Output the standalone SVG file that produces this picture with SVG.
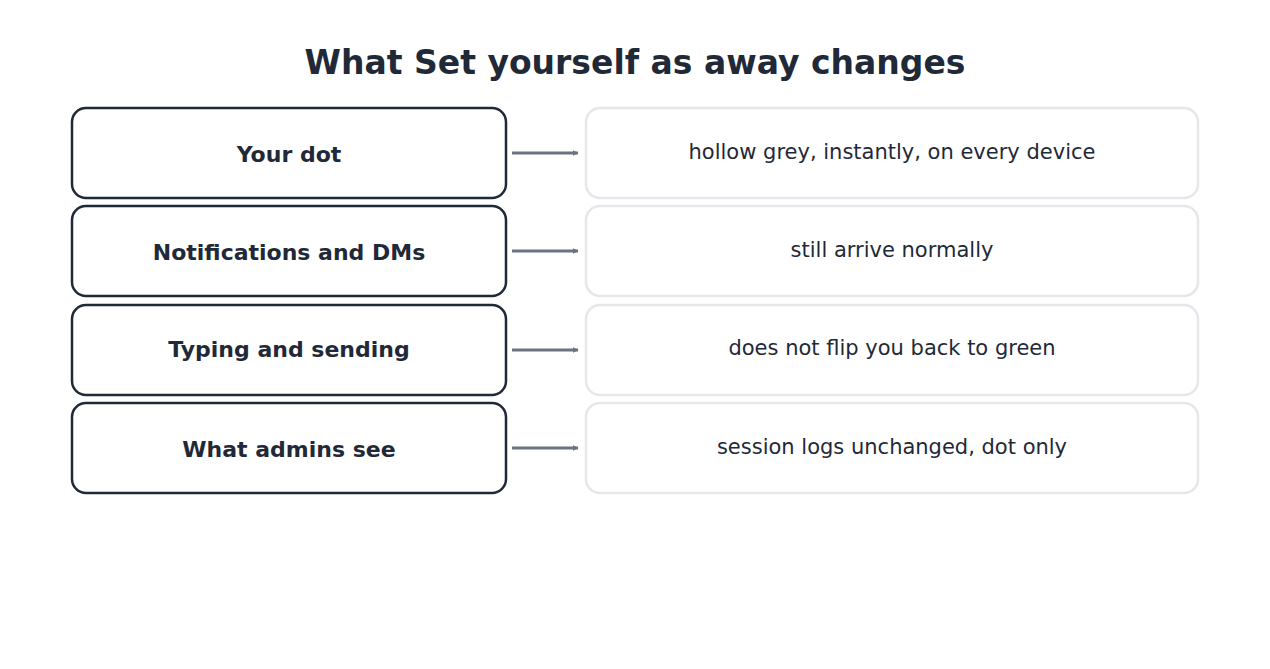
<svg xmlns="http://www.w3.org/2000/svg" width="1270" height="669" viewBox="0 0 1270 669">
<style>
text{font-family:"DejaVu Sans","Liberation Sans",sans-serif;fill:#1f2937;text-anchor:middle;dominant-baseline:central}
.l rect{fill:#fff;stroke:#1f2937;stroke-width:2.5}
.r rect{fill:#fff;stroke:#e5e7eb;stroke-width:2.5}
.l text{font-weight:bold;font-size:22px}
.r text{font-size:21px}
.c line{stroke:#6b7280;stroke-width:3;marker-end:url(#a)}
</style>
<defs><marker id="a" viewBox="0 0 10 10" refX="9" refY="5" markerWidth="6" markerHeight="6" markerUnits="userSpaceOnUse" orient="auto"><path d="M0,0L10,5L0,10z" fill="#6b7280"/></marker></defs>
<rect width="1270" height="669" fill="#fff"/>
<text x="635" y="62" font-size="33" font-weight="bold">What Set yourself as away changes</text>
<g id="n1" class="l"><rect x="72" y="108" width="434" height="90" rx="14"/><text x="289" y="154">Your dot</text></g>
<g id="n2" class="l"><rect x="72" y="206" width="434" height="90" rx="14"/><text x="289" y="252">Notifications and DMs</text></g>
<g id="n3" class="l"><rect x="72" y="305" width="434" height="90" rx="14"/><text x="289" y="349">Typing and sending</text></g>
<g id="n4" class="l"><rect x="72" y="403" width="434" height="90" rx="14"/><text x="289" y="449">What admins see</text></g>
<g id="m1" class="r"><rect x="586" y="108" width="612" height="90" rx="14"/><text x="892" y="152">hollow grey, instantly, on every device</text></g>
<g id="m2" class="r"><rect x="586" y="206" width="612" height="90" rx="14"/><text x="892" y="250">still arrive normally</text></g>
<g id="m3" class="r"><rect x="586" y="305" width="612" height="90" rx="14"/><text x="892" y="348">does not flip you back to green</text></g>
<g id="m4" class="r"><rect x="586" y="403" width="612" height="90" rx="14"/><text x="892" y="447">session logs unchanged, dot only</text></g>
<g id="connectors" class="c">
<line x1="512" y1="153" x2="578" y2="153"/>
<line x1="512" y1="251" x2="578" y2="251"/>
<line x1="512" y1="350" x2="578" y2="350"/>
<line x1="512" y1="448" x2="578" y2="448"/>
</g>
</svg>
